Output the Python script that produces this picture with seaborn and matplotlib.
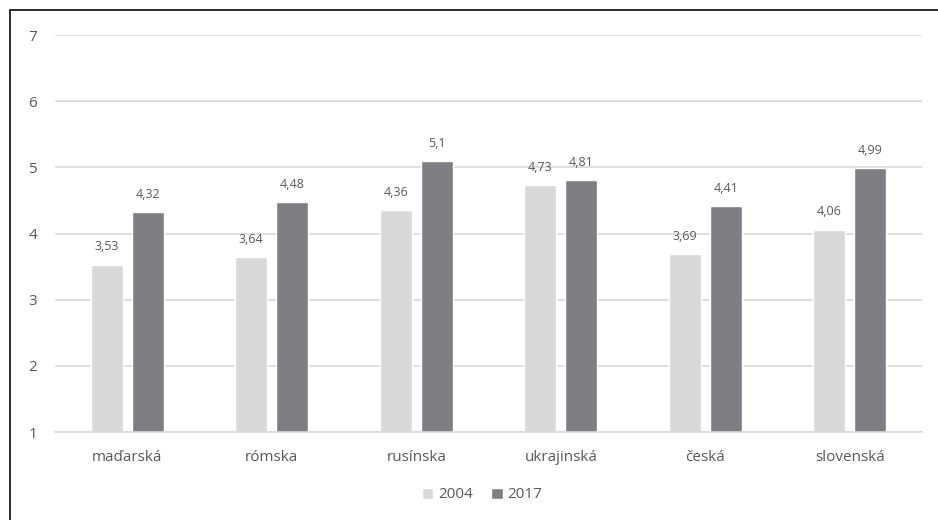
import matplotlib
matplotlib.use("Agg")
import matplotlib.pyplot as plt
import seaborn as sns
import pandas as pd
from matplotlib.patches import Rectangle

categories = ["maďarská", "rómska", "rusínska", "ukrajinská", "česká", "slovenská"]
values_2004 = [3.53, 3.64, 4.36, 4.73, 3.69, 4.06]
values_2017 = [4.32, 4.48, 5.1, 4.81, 4.41, 4.99]
years = ["2004", "2017"]
y_ticks = [1, 2, 3, 4, 5, 6, 7]

df = pd.DataFrame({
    "kategoria": categories * 2,
    "rok": [years[0]] * len(categories) + [years[1]] * len(categories),
    "hodnota": values_2004 + values_2017,
})

sns.set_theme(style="white")
plt.rcParams["font.family"] = ["Open Sans", "DejaVu Sans"]
text_color = "#595959"
grid_color = "#d9d9d9"
palette = {"2004": "#d9d9d9", "2017": "#7f7f83"}

fig = plt.figure(figsize=(9.38, 5.2), dpi=100)
W, H = 938, 520
ax = fig.add_axes([55 / W, 1 - 432 / H, (922 - 55) / W, (432 - 35) / H])

sns.barplot(data=df, x="kategoria", y="hodnota", hue="rok", palette=palette,
            order=categories, hue_order=years, width=0.57, gap=0.225,
            saturation=1, ax=ax, legend=True)

ax.set_ylim(1, 7)
ax.set_yticks(y_ticks)
ax.set_yticklabels([str(t) for t in y_ticks])
ax.set_xlim(-0.5, len(categories) - 0.5)
ax.set_xlabel("")
ax.set_ylabel("")
ax.yaxis.grid(True, color=grid_color, linewidth=1.2)
ax.set_axisbelow(True)
for side in ["top", "right", "left"]:
    ax.spines[side].set_visible(False)
ax.spines["bottom"].set_color(grid_color)
ax.spines["bottom"].set_linewidth(1.2)
ax.tick_params(axis="both", length=0, colors=text_color, labelsize=11)
ax.tick_params(axis="x", pad=13)
ax.tick_params(axis="y", pad=13)

for container in ax.containers:
    labels = [f"{v:g}".replace(".", ",") for v in container.datavalues]
    ax.bar_label(container, labels=labels, padding=8, fontsize=9, color=text_color)

handles, labels = ax.get_legend_handles_labels()
ax.legend_.remove()
fig.legend(handles, labels, loc="center", bbox_to_anchor=(482 / W, 1 - 495 / H),
           ncol=2, frameon=False, fontsize=11, labelcolor=text_color,
           handlelength=0.75, handleheight=0.75, handletextpad=0.3, columnspacing=1.2)

fig.patches.append(Rectangle((9.5 / W, 0 - 0.01), 1.0, 1 - 10 / H + 0.01,
                             transform=fig.transFigure, fill=False,
                             edgecolor="#1a1a1a", linewidth=1.3, zorder=10))

fig.savefig("out.png", dpi=100)
